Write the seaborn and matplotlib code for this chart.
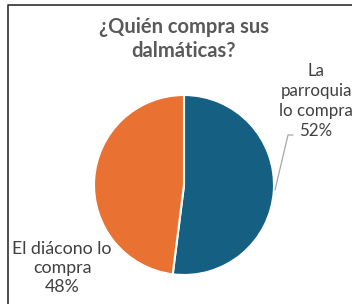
import matplotlib

matplotlib.use("Agg")

import matplotlib.pyplot as plt  # noqa: E402
import seaborn as sns  # noqa: E402
from matplotlib.lines import Line2D  # noqa: E402

sns.set_theme(style="white")
plt.rcParams["font.family"] = ["Lato", "DejaVu Sans"]

title = "¿Quién compra sus\ndalmáticas?"
categories = ["La\nparroquia\nlo compra", "El diácono lo\ncompra"]
shares = [52, 48]
colors = ["#156082", "#E97132"]

W, H = 352, 304
fig = plt.figure(figsize=(W / 100, H / 100), dpi=100)
fig.patch.set_facecolor("white")

# pie axes: center ~ (184, 185) px, radius ~ 90 px
cx, cy, r = 184, 185, 90
ax = fig.add_axes([(cx - r) / W, (H - cy - r) / H, 2 * r / W, 2 * r / H])
ax.pie(shares, colors=colors, startangle=90, counterclock=False,
       wedgeprops=dict(edgecolor="white", linewidth=1.5))
ax.set_aspect("equal")
ax.set_xlim(-1, 1)
ax.set_ylim(-1, 1)
ax.axis("off")

fig.text(cx / W, 1 - 39 / H, title, ha="center", va="center",
         fontsize=14.5, fontweight="bold", color="#595959", linespacing=1.25)

fig.text(316 / W, 1 - 101 / H, f"{categories[0]}\n{shares[0]}%", ha="center",
         va="center", fontsize=12.2, color="#404040", linespacing=1.3)
fig.text(62 / W, 1 - 268 / H, f"{categories[1]}\n{shares[1]}%", ha="center",
         va="center", fontsize=12.8, color="#404040", linespacing=1.25)

# leader line from 52% label to the slice
fig.add_artist(Line2D([293 / W, 288 / W, 275 / W],
                      [1 - 135 / H, 1 - 135 / H, 1 - 190 / H],
                      color="#A6A6A6", linewidth=0.9))

# frame on left and top edges
fig.add_artist(Line2D([8 / W, 8 / W, 1.0], [0.0, 1 - 5 / H, 1 - 5 / H],
                      color="#303030", linewidth=1.2))

fig.savefig("out.png", dpi=100)
